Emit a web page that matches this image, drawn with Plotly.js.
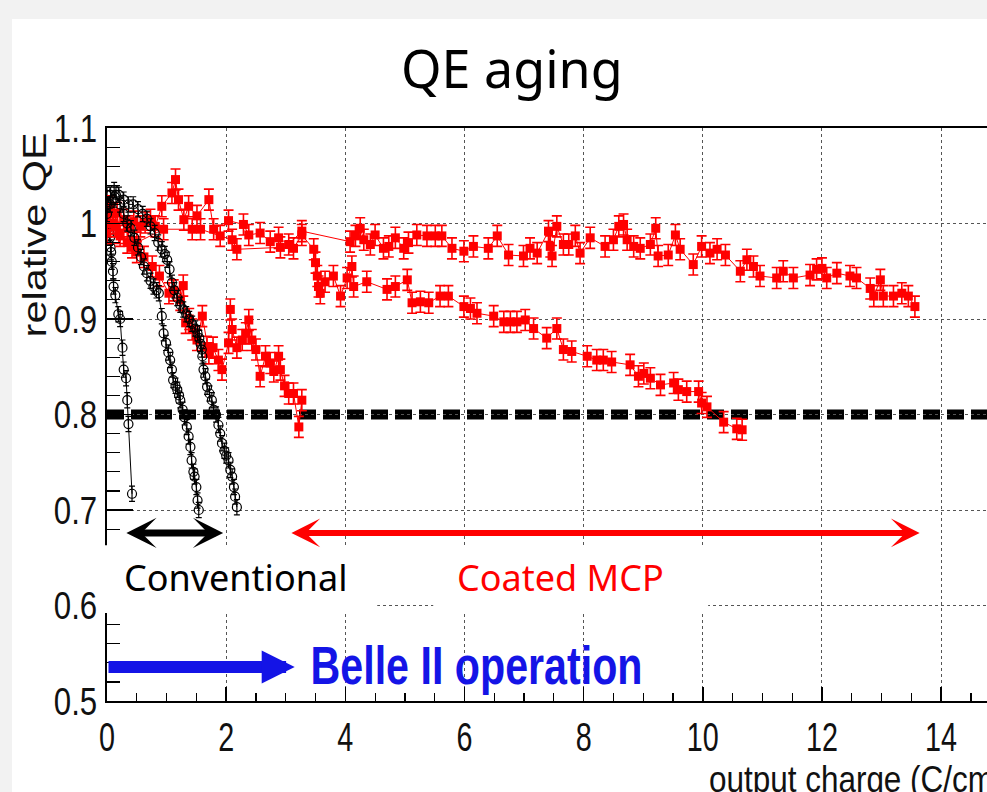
<!DOCTYPE html>
<html>
<head>
<meta charset="utf-8">
<script src="https://cdn.plot.ly/plotly-3.0.1.min.js"></script>
<style>
  html, body { margin: 0; padding: 0; background: #f2f2f2; width: 987px; height: 792px; overflow: hidden; }
  #chart { position: absolute; left: 12px; top: 19px; width: 975px; height: 773px; background: #ffffff; }
</style>
</head>
<body>
<div id="chart"></div>
<script>
// ---- axis ticks ----
const X_TICKS = [0, 2, 4, 6, 8, 10, 12, 14];
const X_TICK_TEXT = ['0', '2', '4', '6', '8', '10', '12', '14'];
const Y_TICKS = [0.5, 0.6, 0.7, 0.8, 0.9, 1.0, 1.1];
const Y_TICK_TEXT = ['0.5', '0.6', '0.7', '0.8', '0.9', '1', '1.1'];
const THRESHOLD = 0.8;

// ---- conventional MCP-PMTs (black) ----
const convA_x = [0, 0.02, 0.03, 0.04, 0.05, 0.06, 0.07, 0.08, 0.1, 0.11, 0.14, 0.19, 0.22, 0.26, 0.28, 0.32, 0.34, 0.36, 0.42];
const convA_y = [1.03, 1.02, 1.0, 0.99, 0.985, 0.975, 0.97, 0.96, 0.95, 0.934, 0.925, 0.905, 0.9, 0.87, 0.847, 0.838, 0.815, 0.79, 0.717];

const convB_x = [0, 0.05, 0.1, 0.15, 0.22, 0.28, 0.34, 0.4, 0.46, 0.52, 0.57, 0.62, 0.67, 0.73, 0.78, 0.83, 0.87, 0.92, 0.95, 0.99, 1.03, 1.06, 1.09, 1.11, 1.15, 1.18, 1.21, 1.23, 1.27, 1.3, 1.34, 1.37, 1.4, 1.42, 1.45, 1.47, 1.5, 1.52, 1.54];
const convB_y = [1.01, 1.02, 1.025, 1.03, 1.02, 1.01, 1.0, 0.995, 0.985, 0.975, 0.965, 0.955, 0.948, 0.94, 0.934, 0.93, 0.927, 0.903, 0.885, 0.875, 0.865, 0.857, 0.847, 0.836, 0.83, 0.826, 0.82, 0.815, 0.805, 0.797, 0.787, 0.777, 0.766, 0.752, 0.74, 0.735, 0.724, 0.71, 0.70];

const convC_x = [0, 0.06, 0.12, 0.2, 0.28, 0.36, 0.44, 0.52, 0.6, 0.67, 0.73, 0.8, 0.86, 0.92, 0.97, 1.01, 1.05, 1.09, 1.13, 1.18, 1.23, 1.28, 1.33, 1.38, 1.43, 1.48, 1.52, 1.55, 1.57, 1.59, 1.6, 1.62, 1.65, 1.68, 1.72, 1.76, 1.79, 1.83, 1.87, 1.9, 1.93, 1.97, 2.0, 2.04, 2.07, 2.1, 2.13, 2.15, 2.18];
const convC_y = [1.02, 1.03, 1.035, 1.03, 1.025, 1.02, 1.02, 1.015, 1.01, 1.005, 0.997, 0.99, 0.98, 0.973, 0.968, 0.962, 0.952, 0.938, 0.93, 0.922, 0.915, 0.91, 0.905, 0.9, 0.895, 0.89, 0.885, 0.88, 0.874, 0.868, 0.861, 0.847, 0.84, 0.829, 0.822, 0.815, 0.805, 0.8, 0.789, 0.78, 0.77, 0.762, 0.757, 0.752, 0.742, 0.735, 0.724, 0.714, 0.703];

// ---- coated MCP-PMTs (red) ----
const coat1_x = [0, 0.06, 0.14, 0.28, 0.36, 0.45, 0.56, 0.64, 0.73, 0.81, 0.92, 1.09, 1.15, 1.2, 1.29, 1.37, 1.51, 1.71, 1.79, 2.04, 2.29, 2.38, 2.57, 2.74, 2.88, 3.05, 3.27,
  4.08, 4.17, 4.25, 4.31, 4.42, 4.50, 4.64, 4.73, 4.84, 4.98, 5.06, 5.20, 5.37, 5.51, 5.62, 5.79, 5.99, 6.15, 6.40, 6.55, 6.74, 6.99, 7.10, 7.22, 7.41, 7.44, 7.47, 7.55, 7.66, 7.75, 7.86, 7.94, 8.11, 8.36, 8.50, 8.59, 8.67, 8.73, 8.84, 8.95, 9.12, 9.21, 9.25, 9.42, 9.54, 9.62, 9.84, 9.98, 10.12, 10.24, 10.38, 10.63, 10.74, 10.85, 10.96, 11.24, 11.35, 11.52, 11.80, 11.91, 12.0, 12.08, 12.25, 12.47, 12.58, 12.81, 12.87, 12.98, 13.03, 13.20, 13.34, 13.45, 13.56];
const coat1_y = [1.004, 1.018, 0.997, 1.004, 0.997, 1.002, 0.997, 1.001, 1.004, 0.997, 1.018, 1.032, 1.046, 1.025, 1.004, 1.018, 1.008, 1.025, 0.994, 1.003, 0.999, 0.988, 0.990, 0.981, 0.985, 0.978, 0.992,
  0.981, 0.987, 0.995, 0.983, 0.978, 0.988, 0.974, 0.976, 0.985, 0.974, 0.980, 0.988, 0.987, 0.987, 0.987, 0.974, 0.971, 0.976, 0.974, 0.987, 0.967, 0.966, 0.974, 0.969, 0.992, 0.976, 0.966, 0.997, 0.978, 0.978, 0.987, 0.969, 0.985, 0.976, 0.983, 0.997, 0.999, 0.983, 0.976, 0.974, 0.978, 0.995, 0.966, 0.967, 0.988, 0.973, 0.957, 0.976, 0.969, 0.973, 0.967, 0.950, 0.962, 0.955, 0.945, 0.943, 0.950, 0.943, 0.946, 0.952, 0.953, 0.943, 0.948, 0.945, 0.943, 0.932, 0.924, 0.941, 0.924, 0.924, 0.927, 0.924, 0.913];

const coat2_x = [0, 0.1, 0.17, 0.22, 0.5, 0.95, 1.43, 1.57, 1.9, 2.1, 2.18, 2.91, 3.13, 3.27, 3.47, 3.50, 3.53, 3.55, 3.58, 3.66, 3.80, 3.92, 4.03, 4.11, 4.14, 4.36, 4.70, 4.84, 5.04, 5.12, 5.26, 5.40, 5.59, 5.73, 5.99, 6.10, 6.21, 6.49, 6.66, 6.77, 6.88, 7.02, 7.16, 7.38, 7.55, 7.66, 7.80, 8.06, 8.22, 8.33, 8.47, 8.78, 8.92, 9.01, 9.12, 9.29, 9.51, 9.59, 9.73, 9.93, 9.98, 10.07, 10.35, 10.57, 10.66];
const coat2_y = [1.0, 1.01, 1.011, 0.987, 0.980, 0.994, 0.994, 0.994, 0.987, 0.983, 0.973, 0.975, 0.974, 0.988, 0.973, 0.959, 0.945, 0.934, 0.927, 0.939, 0.945, 0.924, 0.943, 0.955, 0.934, 0.939, 0.931, 0.934, 0.941, 0.917, 0.918, 0.917, 0.924, 0.924, 0.913, 0.911, 0.906, 0.903, 0.897, 0.897, 0.897, 0.899, 0.890, 0.880, 0.890, 0.868, 0.866, 0.861, 0.857, 0.857, 0.855, 0.852, 0.840, 0.843, 0.838, 0.831, 0.833, 0.826, 0.824, 0.824, 0.812, 0.808, 0.792, 0.785, 0.784];

const coat3_x = [0, 0.1, 0.2, 0.34, 0.42, 0.5, 0.62, 0.76, 0.88, 1.04, 1.12, 1.23, 1.28, 1.32, 1.38, 1.43, 1.51, 1.6, 1.68, 1.71, 1.78, 1.87, 1.93, 2.04, 2.07, 2.1, 2.18, 2.27, 2.33, 2.38, 2.43, 2.5, 2.57, 2.66, 2.74, 2.8, 2.88, 2.91, 2.98, 3.05, 3.13, 3.22, 3.27];
const coat3_y = [0.99, 1.0, 0.99, 0.98, 0.975, 0.97, 0.965, 0.955, 0.945, 0.927, 0.93, 0.92, 0.935, 0.896, 0.9, 0.889, 0.878, 0.903, 0.871, 0.864, 0.87, 0.857, 0.847, 0.875, 0.91, 0.889, 0.87, 0.878, 0.885, 0.899, 0.878, 0.868, 0.84, 0.861, 0.854, 0.845, 0.861, 0.847, 0.83, 0.822, 0.822, 0.787, 0.815];

// measurement uncertainty per point
const ERR_CONV = 0.008;
const ERR_COAT = 0.011;

const HELV = '"Liberation Sans", Arial, Helvetica, sans-serif';
const SANS = '"Noto Sans", "Open Sans", sans-serif';
const RED = '#ff0000';
const BLUE = '#1414e6';

function convTrace(xs, ys) {
  return {
    type: 'scatter', mode: 'lines+markers', x: xs, y: ys,
    line: { color: '#000', width: 1 },
    marker: { symbol: 'circle-open', size: 9, color: '#000', line: { width: 1.2, color: '#000' } },
    error_y: { type: 'constant', value: ERR_CONV, color: '#000', thickness: 1.2, width: 3 },
    hoverinfo: 'x+y'
  };
}
function coatTrace(xs, ys) {
  return {
    type: 'scatter', mode: 'lines+markers', x: xs, y: ys,
    line: { color: RED, width: 1 },
    marker: { symbol: 'square', size: 9, color: RED },
    error_y: { type: 'constant', value: ERR_COAT, color: RED, thickness: 1.6, width: 5 },
    hoverinfo: 'x+y'
  };
}

const data = [
  convTrace(convA_x, convA_y),
  coatTrace(coat1_x, coat1_y),
  coatTrace(coat2_x, coat2_y),
  coatTrace(coat3_x, coat3_y),
  convTrace(convB_x, convB_y),
  convTrace(convC_x, convC_y)
];

const X_MAX = 14.77;

// white panels hiding the axis between the two labelled bands
const cover = (x0, x1, y0, y1) => ({
  type: 'rect', xref: 'paper', yref: 'paper', x0, x1, y0, y1,
  fillcolor: '#ffffff', line: { width: 0 }, layer: 'above'
});

const layout = {
  width: 975, height: 773,
  margin: { l: 95, r: 0, t: 109, b: 91, pad: 0 },
  paper_bgcolor: '#ffffff', plot_bgcolor: '#ffffff',
  showlegend: false,
  xaxis: {
    range: [0, X_MAX], tickmode: 'array', tickvals: X_TICKS, ticktext: X_TICK_TEXT,
    ticks: 'inside', ticklen: 14, tickwidth: 1.5, tickcolor: '#000',
    showline: true, linecolor: '#000', linewidth: 2, mirror: true,
    showgrid: true, gridcolor: '#555', griddash: 'dot', gridwidth: 1, zeroline: false,
    tickfont: { family: HELV, size: 40, color: '#111' },
    minor: { ticks: 'inside', ticklen: 8, tickmode: 'linear', tick0: 0, dtick: 0.5, tickcolor: '#000', tickwidth: 1.2, showgrid: false },
    fixedrange: true
  },
  yaxis: {
    range: [0.5, 1.1], tickmode: 'array', tickvals: Y_TICKS, ticktext: Y_TICK_TEXT,
    ticks: 'inside', ticklen: 26, tickwidth: 1.5, tickcolor: '#000',
    showline: true, linecolor: '#000', linewidth: 2, mirror: false,
    showgrid: true, gridcolor: '#555', griddash: 'dot', gridwidth: 1, zeroline: false,
    tickfont: { family: HELV, size: 39, color: '#111' },
    minor: { ticks: 'inside', ticklen: 13, tickmode: 'linear', tick0: 0.5, dtick: 0.02, tickcolor: '#000', tickwidth: 1.2, showgrid: false },
    fixedrange: true
  },
  shapes: [
    { type: 'line', xref: 'x', yref: 'y', x0: 0, x1: X_MAX, y0: THRESHOLD, y1: THRESHOLD,
      line: { color: '#000', width: 10, dash: '17px,7px' }, layer: 'below' },
    cover(-0.0041, 0.3071, 0.1536, 0.272),
    cover(0.3071, 0.3707, 0.171, 0.272),
    cover(0.3707, 0.6831, 0.1536, 0.272)
  ],
  annotations: [
    { text: 'QE aging', xref: 'paper', yref: 'paper', x: 0.4605, y: 1.1056, xanchor: 'center', yanchor: 'middle',
      showarrow: false, font: { family: SANS, size: 52, color: '#000' } },
    { text: 'relative QE', xref: 'paper', yref: 'paper', x: -0.0836, y: 0.814, xanchor: 'center', yanchor: 'middle',
      textangle: -90, showarrow: false, font: { family: HELV, size: 34, color: '#111' } },
    { text: 'output charge (C/cm<sup>2</sup>)', xref: 'paper', yref: 'paper', x: 0.682, y: -0.1318, xanchor: 'left', yanchor: 'middle',
      align: 'left', showarrow: false, font: { family: HELV, size: 37, color: '#111' } },
    { text: 'Conventional', xref: 'paper', yref: 'paper', x: 0.0175, y: 0.2147, xanchor: 'left', yanchor: 'middle',
      showarrow: false, font: { family: SANS, size: 36, color: '#000' } },
    { text: 'Coated MCP', xref: 'paper', yref: 'paper', x: 0.3957, y: 0.2147, xanchor: 'left', yanchor: 'middle',
      showarrow: false, font: { family: SANS, size: 36, color: RED } },
    { text: 'Belle II operation', xref: 'paper', yref: 'paper', x: 0.4197, y: 0.063, xanchor: 'center', yanchor: 'middle',
      showarrow: false, font: { family: HELV, size: 54, weight: 'bold', color: BLUE } },
    // double-headed span arrows
    { text: '', xref: 'x', yref: 'y', axref: 'x', ayref: 'y', x: 1.95, y: 0.676, ax: 0.30, ay: 0.676,
      showarrow: true, arrowside: 'end+start', arrowhead: 3, startarrowhead: 3, arrowwidth: 7, arrowsize: 0.72, startarrowsize: 0.72, arrowcolor: '#000' },
    { text: '', xref: 'x', yref: 'y', axref: 'x', ayref: 'y', x: 13.64, y: 0.676, ax: 3.07, ay: 0.676,
      showarrow: true, arrowside: 'end+start', arrowhead: 3, startarrowhead: 3, arrowwidth: 6, arrowsize: 0.8, startarrowsize: 0.8, arrowcolor: RED },
    { text: '', xref: 'x', yref: 'y', axref: 'x', ayref: 'y', x: 3.15, y: 0.5357, ax: 0, ay: 0.5357,
      showarrow: true, arrowhead: 2, arrowwidth: 12, arrowsize: 0.55, arrowcolor: BLUE }
  ]
};

// narrow the Helvetica-style labels to the condensed look of the figure
function setLength(el, factor) {
  const w = el.getComputedTextLength();
  if (w > 0) {
    el.setAttribute('textLength', (w * factor).toFixed(1));
    el.setAttribute('lengthAdjust', 'spacingAndGlyphs');
  }
}
function annText(gd, i) {
  return gd.querySelector('.annotation[data-index="' + i + '"] text.annotation-text');
}

Plotly.newPlot('chart', data, layout, { displayModeBar: false, staticPlot: true }).then(gd => {
  gd.querySelectorAll('.xtick text').forEach(t => setLength(t, 0.72));
  gd.querySelectorAll('.ytick text').forEach(t => setLength(t, 0.8));
  const yTitle = annText(gd, 1);
  if (yTitle) { yTitle.setAttribute('textLength', '205'); yTitle.setAttribute('lengthAdjust', 'spacingAndGlyphs'); }
  const xTitle = annText(gd, 2);
  if (xTitle) setLength(xTitle, 0.85);
  const belle = annText(gd, 5);
  if (belle) { belle.setAttribute('textLength', '332'); belle.setAttribute('lengthAdjust', 'spacingAndGlyphs'); }
});
</script>
</body>
</html>
